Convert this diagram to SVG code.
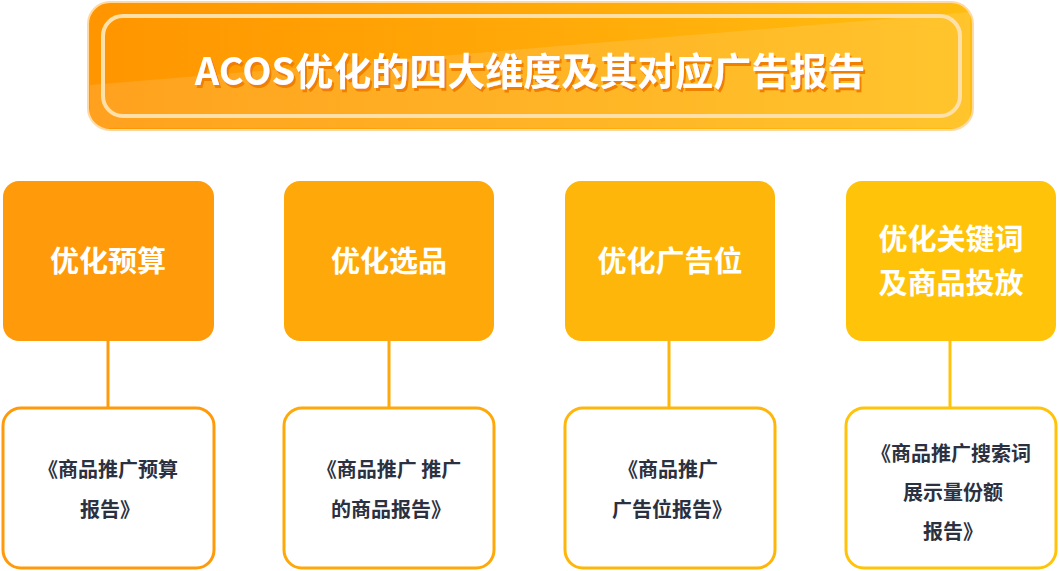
<svg xmlns="http://www.w3.org/2000/svg" width="1059" height="571" viewBox="0 0 1059 571">
<defs>
<linearGradient id="tg" x1="0" y1="0" x2="1" y2="0"><stop offset="0" stop-color="#ff9500"/><stop offset="1" stop-color="#ffbd10"/></linearGradient>
<filter id="sh"><feDropShadow dx="2" dy="3" stdDeviation="0" flood-color="#f08000"/></filter>
</defs>
<style>
.top{rx:16;ry:16}
.tt{font-family:"Noto Sans CJK SC","Liberation Sans",sans-serif;font-weight:bold;font-size:29px;fill:#fff;text-anchor:middle}
.bt{font-family:"Noto Sans CJK SC","Liberation Sans",sans-serif;font-weight:bold;font-size:20px;fill:#2b3140;text-anchor:middle}
.bot{fill:#fff;stroke-width:3;rx:18;ry:18}
.ln{stroke-width:3}
</style>
<g id="title">
<rect x="88" y="2" width="885" height="128" rx="22" fill="url(#tg)" stroke="#ffd9a0" stroke-width="2"/>
<path d="M90 85 L970 12 L970 128 L90 128 Z" fill="#fff" opacity="0.12"/>
<rect x="103" y="16" width="857" height="100" rx="20" fill="none" stroke="#ffe0a8" stroke-width="4"/>
<text x="530" y="85" filter="url(#sh)" style="font-family:'Noto Sans CJK SC','Liberation Sans',sans-serif;font-weight:bold;font-size:38px;fill:#fff;text-anchor:middle">ACOS优化的四大维度及其对应广告报告</text>
</g>
<g id="connectors">
<line class="ln" x1="108" y1="340" x2="108" y2="408" stroke="#ff9a0a"/>
<line class="ln" x1="389" y1="340" x2="389" y2="408" stroke="#ffa80a"/>
<line class="ln" x1="669" y1="340" x2="669" y2="408" stroke="#ffb60a"/>
<line class="ln" x1="950" y1="340" x2="950" y2="408" stroke="#ffc40a"/>
</g>
<g id="n1"><rect class="top" x="3" y="181" width="211" height="160" fill="#ff9a0a"/><text class="tt" x="108" y="272">优化预算</text></g>
<g id="n2"><rect class="top" x="284" y="181" width="210" height="160" fill="#ffa80a"/><text class="tt" x="389" y="272">优化选品</text></g>
<g id="n3"><rect class="top" x="565" y="181" width="210" height="160" fill="#ffb60a"/><text class="tt" x="670" y="272">优化广告位</text></g>
<g id="n4"><rect class="top" x="846" y="181" width="210" height="160" fill="#ffc40a"/><text class="tt" x="951" y="250">优化关键词</text><text class="tt" x="951" y="294">及商品投放</text></g>
<g id="b1"><rect class="bot" x="3" y="408" width="211" height="160" stroke="#ff9a0a"/><text class="bt" x="108" y="477">《商品推广预算</text><text class="bt" x="110" y="517">报告》</text></g>
<g id="b2"><rect class="bot" x="284" y="408" width="210" height="160" stroke="#ffa80a"/><text class="bt" x="389" y="477">《商品推广 推广</text><text class="bt" x="391" y="517">的商品报告》</text></g>
<g id="b3"><rect class="bot" x="565" y="408" width="210" height="160" stroke="#ffb60a"/><text class="bt" x="668" y="477">《商品推广</text><text class="bt" x="672" y="517">广告位报告》</text></g>
<g id="b4"><rect class="bot" x="846" y="408" width="210" height="160" stroke="#ffc40a"/><text class="bt" x="951" y="461">《商品推广搜索词</text><text class="bt" x="953" y="500">展示量份额</text><text class="bt" x="953" y="539">报告》</text></g>
</svg>
